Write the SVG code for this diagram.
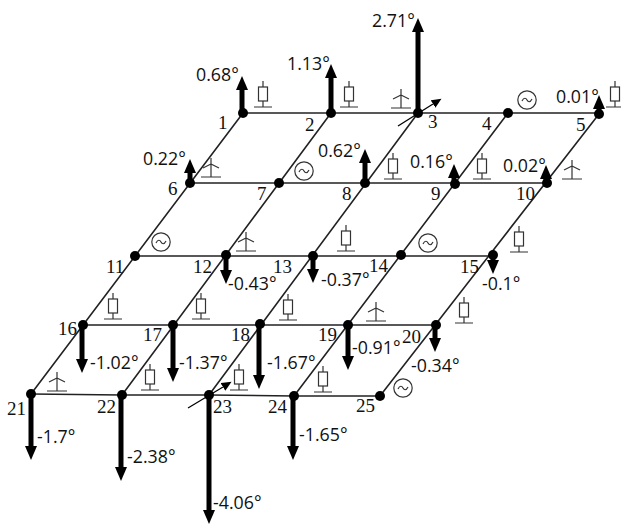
<svg xmlns="http://www.w3.org/2000/svg" width="621" height="524" viewBox="0 0 621 524">
<style>
.w{stroke:#222;stroke-width:1.6;fill:none}
.n{fill:#000}
.f{stroke:#000;stroke-width:5;fill:none;marker-end:url(#h)}
.s{stroke:#000;stroke-width:1.3;fill:none;marker-end:url(#t)}
.v{font-family:"Open Sans",Lato,"Liberation Sans",sans-serif;font-size:17.8px;fill:#111}
.l{font-family:"Liberation Serif",serif;font-size:19px;fill:#111}
.d{stroke:#333;stroke-width:1.2;fill:none}
</style>
<defs>
<marker id="h" markerUnits="userSpaceOnUse" markerWidth="15" markerHeight="13" refX="0" refY="6.5" orient="auto"><path d="M0 0.5L14 6.5L0 12.5Z" fill="#000"/></marker>
<marker id="t" markerUnits="userSpaceOnUse" markerWidth="11" markerHeight="10" refX="0" refY="5" orient="auto"><path d="M0 0.5L10 5L0 9.5Z" fill="#000"/></marker>
<g id="load" class="d"><path d="M0 -26V-20M0 -6V0M-9 0H9"/><rect x="-4.5" y="-20" width="9" height="14"/></g>
<g id="wind" class="d"><path d="M-10 0H10M0 0V-19M0 -13L-8 -9M0 -13L8 -9"/></g>
<g id="gen" class="d"><circle r="9.2"/><path d="M-5 1C-3 -3 -1 -2 0 0S3 3 5 -1"/></g>
</defs>
<g id="connectors">
<path class="w" d="M243 113H599M190 183H547M135 256H493M83 325H436M31 394L122 395L209 395L294 396L380 396"/>
<path class="w" d="M243 113L31 394M331 113L122 395M418 113L209 395M508 113L294 396M599 114L380 396"/>
</g>
<g id="bus1"><circle class="n" cx="243" cy="113" r="5"/><line class="f" x1="242" y1="113" x2="242" y2="90"/><text class="v" x="196" y="81">0.68°</text><text class="l" x="218" y="129">1</text><use href="#load" x="263" y="107"/></g>
<g id="bus2"><circle class="n" cx="331" cy="113" r="5"/><line class="f" x1="331" y1="113" x2="331" y2="78"/><text class="v" x="287" y="70">1.13°</text><text class="l" x="305" y="131">2</text><use href="#load" x="349" y="107"/></g>
<g id="bus3"><circle class="n" cx="418" cy="113" r="5"/><line class="f" x1="418" y1="113" x2="418" y2="32"/><text class="v" x="372" y="27">2.71°</text><text class="l" x="428" y="128">3</text><use href="#wind" x="401" y="108"/><line class="s" x1="398" y1="126" x2="433" y2="104"/></g>
<g id="bus4"><circle class="n" cx="508" cy="113" r="5"/><text class="l" x="482" y="130">4</text><use href="#gen" x="527" y="100"/></g>
<g id="bus5"><circle class="n" cx="599" cy="114" r="5"/><line class="f" x1="599" y1="114" x2="599" y2="109"/><text class="v" x="556" y="103">0.01°</text><text class="l" x="576" y="131">5</text><use href="#load" x="615" y="107"/></g>
<g id="bus6"><circle class="n" cx="190" cy="183" r="5"/><line class="f" x1="190" y1="183" x2="190" y2="173"/><text class="v" x="143" y="165">0.22°</text><text class="l" x="168" y="195">6</text><use href="#wind" x="211" y="177"/></g>
<g id="bus7"><circle class="n" cx="279" cy="183" r="5"/><text class="l" x="257" y="200">7</text><use href="#gen" x="304" y="171"/></g>
<g id="bus8"><circle class="n" cx="365" cy="183" r="5"/><line class="f" x1="365" y1="183" x2="365" y2="163"/><text class="v" x="318" y="157">0.62°</text><text class="l" x="342" y="200">8</text><use href="#load" x="393" y="179"/></g>
<g id="bus9"><circle class="n" cx="455" cy="184" r="5"/><line class="f" x1="454" y1="184" x2="454" y2="178"/><text class="v" x="410" y="168">0.16°</text><text class="l" x="431" y="200">9</text><use href="#load" x="482" y="179"/></g>
<g id="bus10"><circle class="n" cx="547" cy="183" r="5"/><line class="f" x1="546" y1="183" x2="546" y2="179"/><text class="v" x="503" y="172">0.02°</text><text class="l" x="516" y="200">10</text><use href="#wind" x="572" y="179"/></g>
<g id="bus11"><circle class="n" cx="135" cy="256" r="5"/><text class="l" x="106" y="273">11</text><use href="#gen" x="161" y="242"/></g>
<g id="bus12"><circle class="n" cx="226" cy="255" r="5"/><line class="f" x1="226" y1="255" x2="226" y2="270"/><text class="v" x="228" y="290">-0.43°</text><text class="l" x="193" y="273">12</text><use href="#wind" x="246" y="251"/></g>
<g id="bus13"><circle class="n" cx="313" cy="256" r="5"/><line class="f" x1="313" y1="256" x2="313" y2="269"/><text class="v" x="321" y="286">-0.37°</text><text class="l" x="273" y="273">13</text><use href="#load" x="346" y="251"/></g>
<g id="bus14"><circle class="n" cx="401" cy="255" r="5"/><text class="l" x="369" y="272">14</text><use href="#gen" x="428" y="243"/></g>
<g id="bus15"><circle class="n" cx="493" cy="255" r="5"/><line class="f" x1="493" y1="255" x2="493" y2="260"/><text class="v" x="482" y="290">-0.1°</text><text class="l" x="460" y="273">15</text><use href="#load" x="519" y="252"/></g>
<g id="bus16"><circle class="n" cx="83" cy="325" r="5"/><line class="f" x1="82" y1="325" x2="82" y2="359"/><text class="v" x="90" y="369">-1.02°</text><text class="l" x="58" y="335">16</text><use href="#load" x="113" y="319"/></g>
<g id="bus17"><circle class="n" cx="173" cy="325" r="5"/><line class="f" x1="173" y1="325" x2="173" y2="368"/><text class="v" x="179" y="369">-1.37°</text><text class="l" x="143" y="341">17</text><use href="#load" x="201" y="319"/></g>
<g id="bus18"><circle class="n" cx="260" cy="324" r="5"/><line class="f" x1="259" y1="324" x2="259" y2="375"/><text class="v" x="267" y="369">-1.67°</text><text class="l" x="231" y="341">18</text><use href="#load" x="288" y="320"/></g>
<g id="bus19"><circle class="n" cx="348" cy="325" r="5"/><line class="f" x1="348" y1="325" x2="348" y2="356"/><text class="v" x="352" y="354">-0.91°</text><text class="l" x="318" y="341">19</text><use href="#wind" x="376" y="321"/></g>
<g id="bus20"><circle class="n" cx="436" cy="325" r="5"/><line class="f" x1="435" y1="325" x2="435" y2="338"/><text class="v" x="411" y="372">-0.34°</text><text class="l" x="402" y="343">20</text><use href="#load" x="464" y="323"/></g>
<g id="bus21"><circle class="n" cx="31" cy="394" r="5"/><line class="f" x1="31" y1="394" x2="31" y2="446"/><text class="v" x="37" y="443">-1.7°</text><text class="l" x="7" y="415">21</text><use href="#wind" x="57" y="391"/></g>
<g id="bus22"><circle class="n" cx="122" cy="395" r="5"/><line class="f" x1="121" y1="395" x2="121" y2="467"/><text class="v" x="127" y="463">-2.38°</text><text class="l" x="97" y="413">22</text><use href="#load" x="150" y="390"/></g>
<g id="bus23"><circle class="n" cx="209" cy="395" r="5"/><line class="f" x1="209" y1="395" x2="209" y2="510"/><text class="v" x="213" y="509">-4.06°</text><text class="l" x="213" y="413">23</text><use href="#load" x="239" y="390"/><line class="s" x1="188" y1="408" x2="223" y2="387"/></g>
<g id="bus24"><circle class="n" cx="294" cy="396" r="5"/><line class="f" x1="293" y1="396" x2="293" y2="446"/><text class="v" x="299" y="441">-1.65°</text><text class="l" x="268" y="413">24</text><use href="#load" x="323" y="392"/></g>
<g id="bus25"><circle class="n" cx="380" cy="396" r="5"/><text class="l" x="356" y="412">25</text><use href="#gen" x="403" y="388"/></g>
</svg>
